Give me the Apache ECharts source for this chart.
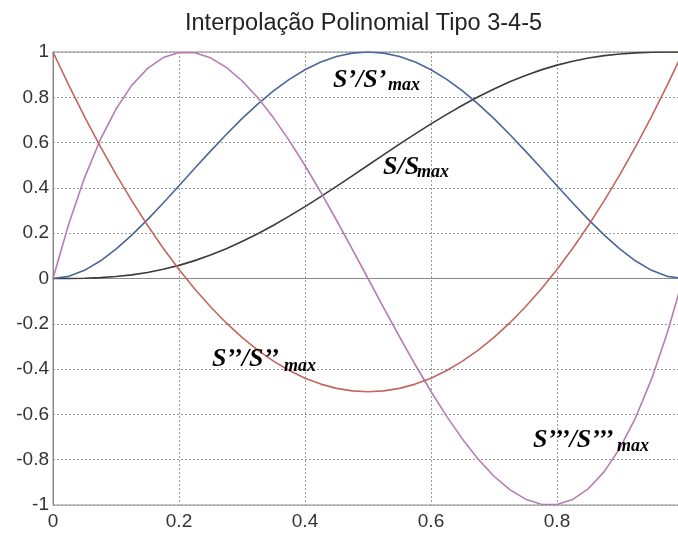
<!DOCTYPE html>
<html>
<head>
<meta charset="utf-8">
<script src="https://cdn.jsdelivr.net/npm/echarts@6/dist/echarts.min.js"></script>
<style>html,body{margin:0;padding:0;background:#fff}#c{width:678px;height:534px}</style>
</head>
<body>
<div id="c"></div>
<script>
const tValues = [0,0.025,0.05,0.075,0.1,0.125,0.15,0.175,0.2,0.225,0.25,0.275,0.3,0.325,0.35,0.375,0.4,0.425,0.45,0.475,0.5,0.525,0.55,0.575,0.6,0.625,0.65,0.675,0.7,0.725,0.75,0.775,0.8,0.825,0.85,0.875,0.9,0.925,0.95,0.975,1];
const sPos = [0,0.0002,0.0012,0.0038,0.0086,0.0161,0.0266,0.0405,0.0579,0.0789,0.1035,0.1316,0.1631,0.1977,0.2352,0.2752,0.3174,0.3615,0.4069,0.4532,0.5,0.5468,0.5931,0.6385,0.6826,0.7248,0.7648,0.8023,0.8369,0.8684,0.8965,0.9211,0.9421,0.9595,0.9734,0.9839,0.9914,0.9962,0.9988,0.9999,1];
const sVel = [0,0.0095,0.0361,0.0770,0.1296,0.1914,0.2601,0.3335,0.4096,0.4865,0.5625,0.6360,0.7056,0.7700,0.8281,0.8789,0.9216,0.9555,0.9801,0.9950,1,0.9950,0.9801,0.9555,0.9216,0.8789,0.8281,0.7700,0.7056,0.6360,0.5625,0.4865,0.4096,0.3335,0.2601,0.1914,0.1296,0.0770,0.0361,0.0095,0];
const sAcc = [0,0.2407,0.4443,0.6128,0.7483,0.8525,0.9275,0.9753,0.9977,0.9967,0.9743,0.9324,0.8730,0.7979,0.7093,0.6089,0.4988,0.3809,0.2572,0.1296,0,-0.1296,-0.2572,-0.3809,-0.4988,-0.6089,-0.7093,-0.7979,-0.8730,-0.9324,-0.9743,-0.9967,-0.9977,-0.9753,-0.9275,-0.8525,-0.7483,-0.6128,-0.4443,-0.2407,0];
const sJerk = [1,0.8538,0.715,0.5838,0.46,0.3438,0.235,0.1338,0.04,-0.0463,-0.125,-0.1963,-0.26,-0.3163,-0.365,-0.4063,-0.44,-0.4663,-0.485,-0.4963,-0.5,-0.4963,-0.485,-0.4663,-0.44,-0.4063,-0.365,-0.3163,-0.26,-0.1963,-0.125,-0.0463,0.04,0.1338,0.235,0.3438,0.46,0.5838,0.715,0.8538,1];
const xTicks = [0,0.2,0.4,0.6,0.8];
const titleText = 'Interpolação Polinomial Tipo 3-4-5';

const pair = arr => tValues.map((t,i)=>[t,arr[i]]);
const chart = echarts.init(document.getElementById('c'), null, {renderer:'canvas'});
const lab = {fontFamily:'Liberation Sans, Arial, sans-serif', fontSize:19, color:'#333'};
const serif = 'Liberation Serif, Times New Roman, serif';
function ann(x,y,main,subX,subY){
  return [
    {type:'text', left:x, top:y, style:{text:main, font:'italic bold 26px '+serif, fill:'#000'}, z:100},
    {type:'text', left:subX, top:subY, style:{text:'max', font:'italic bold 18px '+serif, fill:'#000'}, z:100}
  ];
}
chart.setOption({
  animation:false,
  title:{text:titleText, left:180, top:7, textStyle:{fontFamily:'Liberation Sans, Arial, sans-serif', fontSize:23.5, fontWeight:'normal', color:'#222'}},
  grid:{left:53, top:52, width:630, height:453, show:true, borderColor:'#8a8a8a', borderWidth:1, outerBoundsMode:'none', containLabel:false},
  xAxis:{type:'value', min:0, max:1, interval:0.2,
    axisLine:{lineStyle:{color:'#8a8a8a'}}, axisTick:{show:false},
    axisLabel:Object.assign({margin:7, formatter:v=> xTicks.includes(Math.round(v*10)/10) ? String(Math.round(v*10)/10) : ''}, lab),
    splitLine:{lineStyle:{type:[2,2], color:'#9a9a9a', width:1}}},
  yAxis:{type:'value', min:-1, max:1, interval:0.2,
    axisLine:{show:true, lineStyle:{color:'#8a8a8a'}}, axisTick:{show:false},
    axisLabel:Object.assign({margin:4, formatter:v=>String(Math.round(v*10)/10)}, lab),
    splitLine:{lineStyle:{type:[2,2], color:'#9a9a9a', width:1}}},
  series:[
    {type:'line', data:pair(sPos), showSymbol:false, lineStyle:{color:'#3c3c3c', width:1.6}},
    {type:'line', data:pair(sVel), showSymbol:false, lineStyle:{color:'#4a6798', width:1.6}},
    {type:'line', data:pair(sAcc), showSymbol:false, lineStyle:{color:'#b67db1', width:1.6}},
    {type:'line', data:pair(sJerk), showSymbol:false, lineStyle:{color:'#c0675e', width:1.6}}
  ],
  graphic:[].concat(
    ann(333,67,'S’/S’',388,76),
    ann(383,154,'S/S',417,163),
    ann(212,346,'S’’/S’’',284,357),
    ann(533,427,'S’’’/S’’’',617,437)
  )
});
</script>
</body>
</html>
